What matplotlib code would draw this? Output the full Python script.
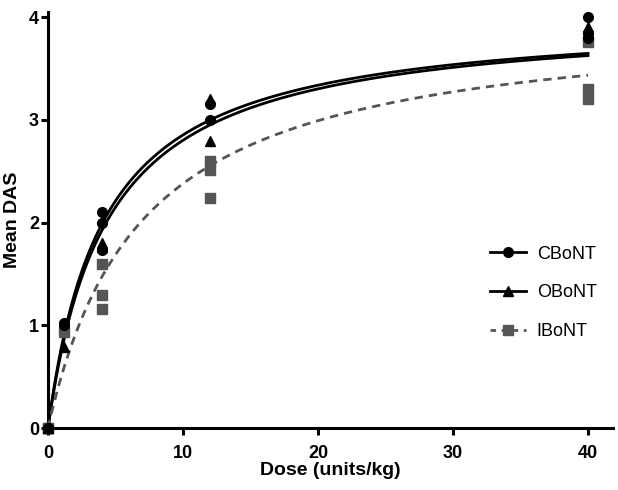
import matplotlib.pyplot as plt
import numpy as np

plt.rcParams['font.family'] = ['Liberation Sans', 'DejaVu Sans']

# raw data points (dose in units/kg, mean DAS)
c_dose = [0, 0, 1.2, 1.2, 4, 4, 4, 12, 12, 40, 40, 40]
c_das = [0, 0, 1.02, 1.0, 2.1, 2.0, 1.73, 3.15, 3.0, 4.0, 3.85, 3.8]
o_dose = [0, 0, 1.2, 4, 4, 12, 12, 40, 40]
o_das = [0, 0, 0.79, 1.8, 1.76, 3.2, 2.79, 3.9, 3.86]
i_dose = [0, 0, 1.2, 4, 4, 4, 12, 12, 12, 40, 40, 40]
i_das = [0, 0, 0.93, 1.6, 1.29, 1.16, 2.6, 2.51, 2.24, 3.76, 3.3, 3.2]

# hyperbola fit parameters: Bmax, Kd
c_fit = (4.02, 4.09)
o_fit = (4.02, 4.35)
i_fit = (4.03, 6.94)

x_ticks = [0, 10, 20, 30, 40]
y_ticks = [0, 1, 2, 3, 4]

fig = plt.figure(figsize=(6.18, 4.9), dpi=100)
ax = fig.add_axes([48 / 618, 62 / 490, 565 / 618, 416 / 490])

xx = np.linspace(0, 40, 400)
gray = '#555555'


def hyper(p):
    return p[0] * xx / (p[1] + xx)


# white halo behind the two black curves so they stay apart
ax.plot(xx, hyper(c_fit), color='white', lw=5, zorder=2)
ax.plot(xx, hyper(o_fit), color='white', lw=5, zorder=2)
ax.plot(xx, hyper(c_fit), color='black', lw=2, zorder=3)
ax.plot(xx, hyper(o_fit), color='black', lw=2, zorder=3)
ax.plot(xx, hyper(i_fit), color=gray, lw=2, ls=(0, (3, 2.2)), zorder=3)

ax.plot(c_dose, c_das, 'o', color='black', ms=7, clip_on=False, zorder=5)
ax.plot(o_dose, o_das, '^', color='black', ms=7, clip_on=False, zorder=5)
ax.plot(i_dose, i_das, 's', color=gray, ms=7, clip_on=False, zorder=4)

# legend handles
h1, = ax.plot([], [], '-o', color='black', lw=2, ms=7)
h2, = ax.plot([], [], '-^', color='black', lw=2, ms=7)
h3, = ax.plot([], [], '--s', color=gray, lw=2, ms=7, dashes=(2, 2))
ax.legend([h1, h2, h3], ['CBoNT', 'OBoNT', 'IBoNT'], frameon=False,
          loc='center right', bbox_to_anchor=(1.0, 0.325), fontsize=13,
          handlelength=2.0, handletextpad=0.6, labelspacing=1.2)

ax.set_xlim(0, 41.85)
ax.set_ylim(0, 4.05)
ax.set_xticks(x_ticks)
ax.set_yticks(y_ticks)
for pos in ['right', 'top']:
    ax.spines[pos].set_visible(False)
for pos in ['left', 'bottom']:
    ax.spines[pos].set_linewidth(2.2)
ax.tick_params(width=2.2, length=5, labelsize=13)
ax.tick_params(axis='x', pad=7.5)
ax.tick_params(axis='y', pad=1.5)
for lab in ax.get_xticklabels() + ax.get_yticklabels():
    lab.set_fontweight('bold')

ax.set_xlabel('Dose (units/kg)', fontsize=14, fontweight='bold', labelpad=0)
ax.set_ylabel('Mean DAS', fontsize=14, fontweight='bold', labelpad=6)

plt.savefig('out.png', dpi=100)
